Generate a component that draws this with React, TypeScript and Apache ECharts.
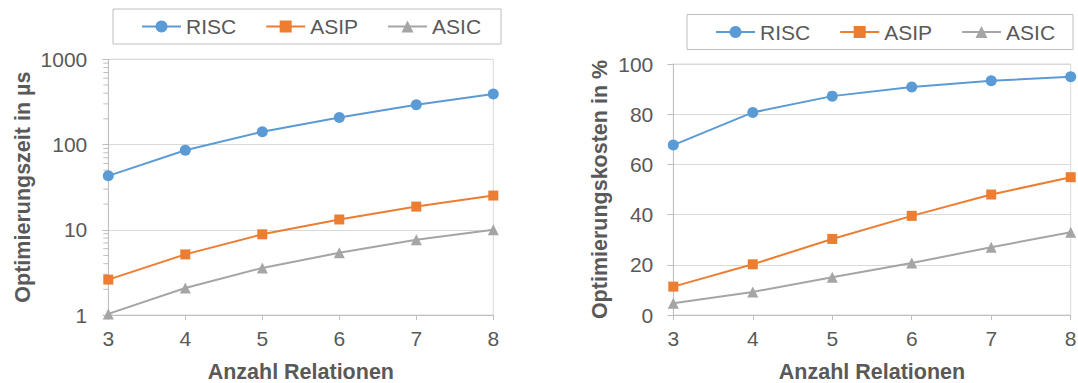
import React, { useEffect, useRef } from "react";
import * as echarts from "echarts";

// Number of relations on the x axis
const relations = ["3", "4", "5", "6", "7", "8"];

// Optimisation time in µs (log scale)
const timeRISC = [42.9, 85.8, 141, 207.6, 292.5, 390.8];
const timeASIP = [2.6, 5.14, 8.85, 13.2, 18.7, 25.2];
const timeASIC = [1.03, 2.07, 3.57, 5.37, 7.63, 10.0];

// Optimisation cost in %
const costRISC = [67.7, 80.7, 87.2, 90.8, 93.3, 94.9];
const costASIP = [11.3, 20.2, 30.3, 39.5, 48.0, 54.9];
const costASIC = [4.7, 9.2, 15.0, 20.7, 27.0, 33.0];

// Minor tick values of the logarithmic axis
const logMinorTicks = [
  2, 3, 4, 5, 6, 7, 8, 9,
  20, 30, 40, 50, 60, 70, 80, 90,
  200, 300, 400, 500, 600, 700, 800, 900,
];

const seriesNames = ["RISC", "ASIP", "ASIC"];
const colors = ["#5b9bd5", "#ed7d31", "#a5a5a5"];
const symbols = ["circle", "rect", "triangle"];
const symbolSizes = [11, 10, 11];

const FONT = "'Liberation Sans', Arial, sans-serif";
const TEXT = "#595959";
const AXIS = "#bfbfbf";
const GRID = "#d9d9d9";

function lineSeries(idx: number, values: number[], axisIndex: number) {
  return {
    type: "line",
    name: seriesNames[idx],
    xAxisIndex: axisIndex,
    yAxisIndex: axisIndex,
    data: values,
    symbol: symbols[idx],
    symbolSize: symbolSizes[idx],
    lineStyle: { color: colors[idx], width: 2 },
    itemStyle: { color: colors[idx] },
    z: 3,
  };
}

function legend(left: number, top: number, padRight: number) {
  return {
    data: seriesNames,
    left,
    top,
    orient: "horizontal",
    itemWidth: 39,
    itemHeight: 15,
    itemGap: 29,
    padding: [7, padRight, 7, 28],
    borderColor: AXIS,
    borderWidth: 1,
    selectedMode: false,
    textStyle: { fontFamily: FONT, fontSize: 21, color: TEXT },
  };
}

const axisLabel = { fontFamily: FONT, fontSize: 21, color: TEXT };
const axisName = { fontFamily: FONT, fontSize: 21.5, fontWeight: "bold", color: TEXT };

export default function App() {
  const ref = useRef<HTMLDivElement>(null);

  useEffect(() => {
    if (!ref.current) return;
    const chart = echarts.init(ref.current, undefined, { renderer: "svg" });

    const xAxisBase = {
      type: "category",
      data: relations,
      boundaryGap: false,
      name: "Anzahl Relationen",
      nameLocation: "middle",
      nameGap: 47,
      nameTextStyle: { ...axisName, lineHeight: 20 },
      axisLine: { show: true, lineStyle: { color: AXIS, width: 1 } },
      axisTick: { show: true, length: 5, alignWithLabel: true, lineStyle: { color: AXIS } },
      axisLabel: { ...axisLabel, margin: 13 },
      splitLine: { show: false },
    };

    chart.setOption({
      animation: false,
      backgroundColor: "#ffffff",
      legend: [legend(113, 9, 20), legend(687, 14.5, 18)],
      grid: [
        {
          left: 108.3, right: 584.7, top: 59.3, bottom: 68,
          outerBoundsMode: "none", containLabel: false,
          show: true, borderColor: GRID, borderWidth: 1,
        },
        {
          left: 673.3, right: 7.3, top: 64, bottom: 68,
          outerBoundsMode: "none", containLabel: false,
          show: true, borderColor: GRID, borderWidth: 1,
        },
      ],
      xAxis: [
        { ...xAxisBase, gridIndex: 0 },
        { ...xAxisBase, gridIndex: 1 },
      ],
      yAxis: [
        {
          gridIndex: 0,
          type: "log",
          logBase: 10,
          min: 1,
          max: 1000,
          name: "Optimierungszeit in µs",
          nameLocation: "middle",
          nameGap: 74,
          nameTextStyle: axisName,
          axisLine: { show: true, lineStyle: { color: AXIS } },
          axisTick: { show: true, length: 6, lineStyle: { color: AXIS } },
          axisLabel: { ...axisLabel, margin: 21, formatter: (v: number) => String(v) },
          splitLine: { show: true, lineStyle: { color: GRID, width: 1 } },
        },
        {
          gridIndex: 1,
          type: "value",
          min: 0,
          max: 100,
          interval: 20,
          name: "Optimierungskosten in %",
          nameLocation: "middle",
          nameGap: 62,
          nameTextStyle: axisName,
          axisLine: { show: true, lineStyle: { color: AXIS } },
          axisTick: { show: true, length: 6, lineStyle: { color: AXIS } },
          axisLabel: { ...axisLabel, margin: 20 },
          splitLine: { show: true, lineStyle: { color: GRID, width: 1 } },
        },
      ],
      series: [
        // minor ticks of the log axis, placed through the axis scale
        {
          type: "custom",
          name: "minorTicks",
          xAxisIndex: 0,
          yAxisIndex: 0,
          silent: true,
          clip: false,
          data: logMinorTicks.map((v) => [0, v]),
          renderItem: (_params: any, api: any) => {
            const p = api.coord([api.value(0), api.value(1)]);
            return {
              type: "line",
              shape: { x1: p[0] - 5, y1: p[1], x2: p[0], y2: p[1] },
              style: { stroke: AXIS, lineWidth: 1 },
            };
          },
          z: 1,
        },
        lineSeries(0, timeRISC, 0),
        lineSeries(1, timeASIP, 0),
        lineSeries(2, timeASIC, 0),
        lineSeries(0, costRISC, 1),
        lineSeries(1, costASIP, 1),
        lineSeries(2, costASIC, 1),
      ],
    });

    return () => chart.dispose();
  }, []);

  return (
    <div
      ref={ref}
      style={{ position: "absolute", left: 0, top: 0, width: 1078, height: 383, background: "#fff" }}
    />
  );
}
